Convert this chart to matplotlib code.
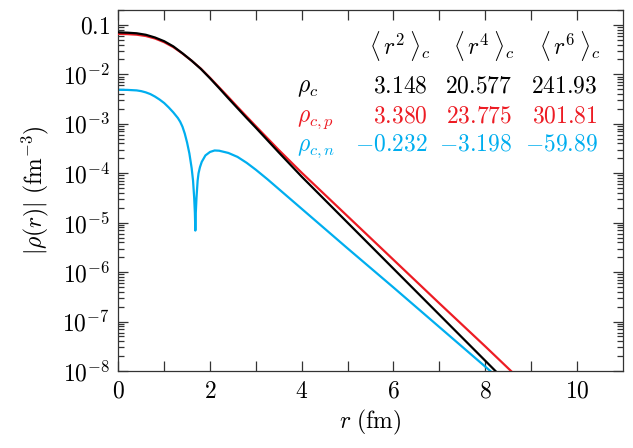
import matplotlib
matplotlib.use("Agg")
import numpy as np
import matplotlib.pyplot as plt
from matplotlib.ticker import FixedLocator, FuncFormatter, LogLocator, NullFormatter

plt.rcParams['font.family'] = 'serif'
plt.rcParams['font.serif'] = ['cmr10', 'DejaVu Serif']
plt.rcParams['mathtext.fontset'] = 'cm'
plt.rcParams['axes.unicode_minus'] = False

# ---- data (log10 of |rho| in fm^-3) ----
r_c = [0, 0.2, 0.4, 0.6, 0.8, 1.0, 1.2, 1.4, 1.6, 1.8, 2.0, 2.2, 2.4, 2.6, 2.8, 3.0,
       3.5, 4.0, 5.0, 6.0, 7.0, 8.0, 8.3]
log_rho_c = [-1.152, -1.158, -1.17, -1.2, -1.255, -1.33, -1.435, -1.575, -1.725, -1.89, -2.08,
             -2.28, -2.485, -2.685, -2.885, -3.08, -3.58, -4.07, -5.0, -5.93, -6.86, -7.79, -8.07]

r_p = [0, 0.2, 0.4, 0.6, 0.8, 1.0, 1.2, 1.4, 1.6, 1.8, 2.0, 2.2, 2.4, 2.6, 2.8, 3.0,
       3.5, 4.0, 5.0, 6.0, 7.0, 8.0, 8.7]
log_rho_p = [-1.182, -1.187, -1.198, -1.225, -1.275, -1.35, -1.45, -1.58, -1.725, -1.885, -2.07,
             -2.265, -2.46, -2.66, -2.855, -3.05, -3.53, -3.99, -4.87, -5.75, -6.63, -7.50, -8.12]

r_n = [0, 0.2, 0.4, 0.5, 0.6, 0.7, 0.8, 0.9, 1.0, 1.1, 1.2, 1.3, 1.35, 1.4, 1.45, 1.5, 1.55,
       1.6, 1.63, 1.655, 1.67, 1.68, 1.69, 1.705, 1.73, 1.75, 1.78, 1.82, 1.9, 2.0, 2.1, 2.2,
       2.4, 2.6, 2.8, 3.0, 3.25, 3.5, 4.0, 5.0, 6.0, 7.0, 8.0, 8.2]
log_rho_n = [-2.313, -2.315, -2.325, -2.34, -2.365, -2.40, -2.45, -2.51, -2.58, -2.67, -2.77,
             -2.885, -2.96, -3.06, -3.2, -3.38, -3.6, -3.9, -4.15, -4.5, -4.8, -5.16, -4.8, -4.5,
             -4.15, -4.0, -3.88, -3.77, -3.64, -3.57, -3.54, -3.545, -3.59, -3.67, -3.79, -3.93,
             -4.12, -4.32, -4.72, -5.52, -6.31, -7.11, -7.91, -8.07]

col_headers = [r'$\langle\, r^2\, \rangle_c$', r'$\langle\, r^4\, \rangle_c$', r'$\langle\, r^6\, \rangle_c$']
row_labels = [r'$\rho_c$', r'$\rho_{c,p}$', r'$\rho_{c,n}$']
table_values = [[r'$3.148$', r'$20.577$', r'$241.93$'],
                [r'$3.380$', r'$23.775$', r'$301.81$'],
                [r'$-0.232$', r'$-3.198$', r'$-59.89$']]

BLACK = '#000000'
RED = '#ED1C24'
BLUE = '#00AEEF'
row_colors = [BLACK, RED, BLUE]

W, H = 633, 448
fig = plt.figure(figsize=(W / 100, H / 100), dpi=100)
ax = fig.add_axes([118.3 / W, 1 - 371 / H, (622.7 - 118.3) / W, (371 - 10) / H])

ax.plot(r_n, 10 ** np.array(log_rho_n), color=BLUE, lw=1.6, zorder=2)
ax.plot(r_p, 10 ** np.array(log_rho_p), color=RED, lw=1.6, zorder=3)
ax.plot(r_c, 10 ** np.array(log_rho_c), color=BLACK, lw=1.6, zorder=4)

ax.set_yscale('log')
ax.set_xlim(0, 11)
ax.set_ylim(1e-8, 0.2)

ax.xaxis.set_major_locator(FixedLocator([0, 2, 4, 6, 8, 10]))
ax.xaxis.set_minor_locator(FixedLocator([1, 3, 5, 7, 9]))
ax.xaxis.set_major_formatter(FuncFormatter(lambda v, p: r'$%d$' % v))

ax.yaxis.set_major_locator(FixedLocator([1e-8, 1e-7, 1e-6, 1e-5, 1e-4, 1e-3, 1e-2, 1e-1]))
ax.yaxis.set_minor_locator(LogLocator(base=10, subs=range(2, 10), numticks=20))
ax.yaxis.set_minor_formatter(NullFormatter())


def yfmt(v, p):
    e = int(round(np.log10(v)))
    if e == -1:
        return r'$0.1$'
    return r'$10^{%d}$' % e


ax.yaxis.set_major_formatter(FuncFormatter(yfmt))

ax.tick_params(which='both', direction='in', top=True, right=True, color='#333333', width=0.9,
               labelsize=17)
ax.tick_params(axis='x', which='both', length=7, pad=7)
ax.tick_params(axis='y', which='major', length=7, pad=6)
ax.tick_params(axis='y', which='minor', length=4)
for s in ax.spines.values():
    s.set_linewidth(0.9)
    s.set_color('#333333')

ax.set_xlabel(r'$r\ (\mathrm{fm})$', fontsize=17, labelpad=4)
ax.set_ylabel(r'$|\rho(r)|\ (\mathrm{fm}^{-3})$', fontsize=17, labelpad=8)


def fx(x):
    return x / W


def fy(y):
    return 1 - y / H


col_right = [430, 514, 600]
for j, h in enumerate(col_headers):
    fig.text(fx(col_right[j]), fy(55), h, ha='right', va='baseline', fontsize=17)

row_base = [92.5, 122, 150.5]
for i in range(3):
    fig.text(fx(297), fy(row_base[i]), row_labels[i], ha='left', va='baseline', fontsize=17,
             color=row_colors[i])
    for j in range(3):
        fig.text(fx(col_right[j] - 2), fy(row_base[i]), table_values[i][j], ha='right',
                 va='baseline', fontsize=17, color=row_colors[i])

fig.savefig('out.png', dpi=100)
